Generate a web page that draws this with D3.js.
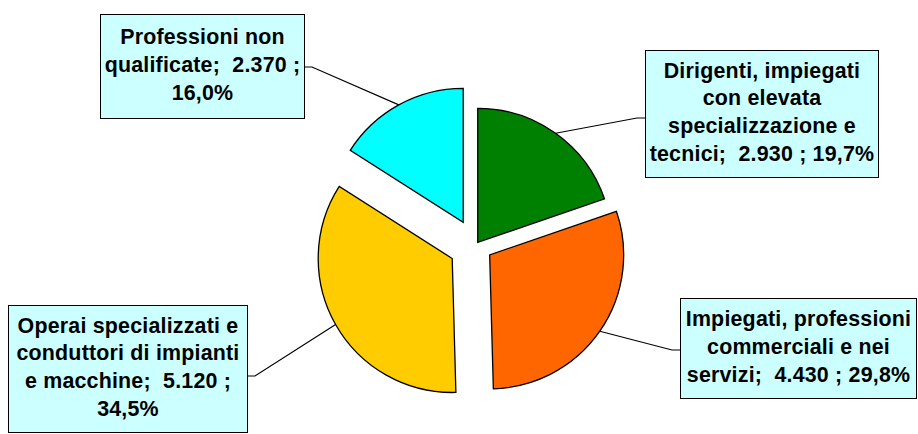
<!DOCTYPE html>
<html>
<head>
<meta charset="utf-8">
<script src="https://cdn.jsdelivr.net/npm/d3@7"></script>
<style>
  body { margin: 0; background: #fff; }
  svg { display: block; }
  .lbl { font-family: "Liberation Sans", Arial, sans-serif; font-weight: bold; font-size: 21.4px; letter-spacing: 0.2px; white-space: pre; }
</style>
</head>
<body>
<div id="chart"></div>
<script>
// data, clockwise from 12 o'clock
const categories = [
  "Dirigenti, impiegati con elevata specializzazione e tecnici",
  "Impiegati, professioni commerciali e nei servizi",
  "Operai specializzati e conduttori di impianti e macchine",
  "Professioni non qualificate"
]
const values = [2930, 4430, 5120, 2370]
const colors = ["#008000", "#FF6600", "#FFCC00", "#00FFFF"]
// words per line in each label box
const lineWords = [[2, 2, 2, 5], [2, 3, 5], [3, 3, 5, 1], [2, 4, 1]]

const W = 918, H = 434
const R = 134
const cx = 475.7, cy = 245.2
const explode = [3.5, 17, 27, 26]
// label boxes and leader height
const boxes = [
  { x: 645, y: 50, w: 233, h: 127, side: "left" },
  { x: 680, y: 298, w: 236, h: 100, side: "left" },
  { x: 8, y: 305, w: 239, h: 127, side: "right" },
  { x: 100, y: 14, w: 204, h: 104, side: "right" }
]
const leaderY = [118, 350, 376, 67]

const it = d3.formatLocale({ decimal: ",", thousands: ".", grouping: [3], currency: ["€", ""] })
const fmtNum = it.format(",d")
const fmtPct = it.format(".1%")
const total = d3.sum(values)

const svg = d3.select("#chart").append("svg")
  .attr("width", W)
  .attr("height", H)

const pie = d3.pie().sort(null).value(d => d)
const arcs = pie(values)
const arc = d3.arc().innerRadius(0).outerRadius(R)
const rim = d3.arc().innerRadius(R).outerRadius(R)

// offset of each slice along its bisector
function offset(d, i) {
  const a = (d.startAngle + d.endAngle) / 2
  return [cx + explode[i] * Math.sin(a), cy - explode[i] * Math.cos(a)]
}

// leader lines
svg.append("g").selectAll("polyline")
  .data(arcs)
  .join("polyline")
    .attr("fill", "none")
    .attr("stroke", "#000")
    .attr("stroke-width", 1.2)
    .attr("points", (d, i) => {
      const o = offset(d, i)
      const c = rim.centroid(d)
      const start = [o[0] + c[0], o[1] + c[1]]
      const b = boxes[i]
      const ex = b.side === "left" ? b.x : b.x + b.w
      const elbow = b.side === "left" ? ex - 8 : ex + 8
      return [start, [elbow, leaderY[i]], [ex, leaderY[i]]].map(p => p.join(",")).join(" ")
    })

// slices
svg.append("g").selectAll("path")
  .data(arcs)
  .join("path")
    .attr("transform", (d, i) => `translate(${offset(d, i)})`)
    .attr("d", arc)
    .attr("fill", (d, i) => colors[i])
    .attr("stroke", "#000")
    .attr("stroke-width", 1.3)

// label boxes
const lab = svg.append("g").selectAll("g")
  .data(arcs)
  .join("g")

lab.append("rect")
  .attr("x", (d, i) => boxes[i].x + 0.5)
  .attr("y", (d, i) => boxes[i].y + 0.5)
  .attr("width", (d, i) => boxes[i].w)
  .attr("height", (d, i) => boxes[i].h)
  .attr("fill", "#CCFFFF")
  .attr("stroke", "#000")
  .attr("stroke-width", 1)

const LH = 27.8
lab.each(function(d, i) {
  const label = `${categories[i]};  ${fmtNum(values[i])} ; ${fmtPct(values[i] / total)}`
  const words = label.split(" ")
  const lines = []
  let k = 0
  lineWords[i].forEach(n => {
    lines.push(words.slice(k, k + n).join(" "))
    k += n
  })
  const b = boxes[i]
  const y0 = b.y + b.h / 2 - (lines.length - 1) * LH / 2 + 5.8
  d3.select(this).append("text")
    .attr("class", "lbl")
    .attr("text-anchor", "middle")
    .selectAll("tspan")
    .data(lines)
    .join("tspan")
      .attr("x", b.x + b.w / 2 + 0.5)
      .attr("y", (l, j) => y0 + j * LH)
      .text(l => l)
})
</script>
</body>
</html>
